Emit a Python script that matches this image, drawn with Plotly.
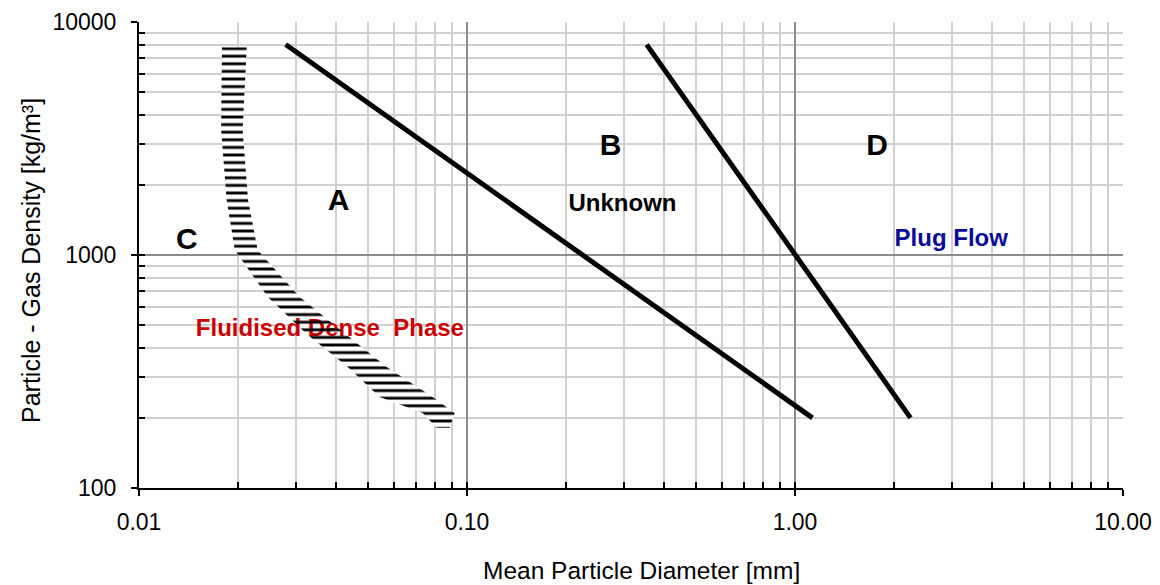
import plotly.graph_objects as go

# ---- data ----
# A/B boundary line: mean particle diameter [mm] vs particle-gas density [kg/m3]
ab_x = [0.028, 1.13]
ab_y = [8000, 200]
# B/D boundary line
bd_x = [0.353, 2.25]
bd_y = [8000, 200]
# Hatched A/C boundary band: left and right edges at given densities
band_y = [7800, 3440, 1720, 1050, 660, 454, 331, 246, 210, 181]
band_left = [0.0179, 0.0178, 0.0185, 0.0196, 0.0247, 0.0327, 0.0433, 0.0542, 0.0733, 0.0809]
band_right = [0.0213, 0.0207, 0.0215, 0.0230, 0.0309, 0.0430, 0.0569, 0.0786, 0.0917, 0.0886]

# region labels
region_letters = ["A", "B", "C", "D"]
region_x = [0.0406, 0.274, 0.0140, 1.78]
region_y = [1672, 2907, 1148, 2907]
desc_text = ["Unknown", "Plug Flow"]
desc_x = [0.298, 2.995]
desc_y = [1639, 1160]
fluid_text = ["Fluidised Dense  Phase"]
fluid_x = [0.0382]
fluid_y = [476]

x_tickvals = [0.01, 0.1, 1, 10]
x_ticktext = ["0.01", "0.10", "1.00", "10.00"]
y_tickvals = [100, 1000, 10000]
y_ticktext = ["100", "1000", "10000"]
x_title = "Mean Particle Diameter [mm]"
y_title = "Particle - Gas Density [kg/m³]"

FONT = "Liberation Sans, Arial, sans-serif"

x_minor = [k * 10 ** e for e in (-2, -1, 0) for k in range(2, 10)]
y_minor = [k * 10 ** e for e in (2, 3) for k in range(2, 10)]

band_px = band_left + band_right[::-1]
band_py = band_y + band_y[::-1]

fig = go.Figure()

# white body of the hatched band (hides grid)
fig.add_trace(go.Scatter(
    x=band_px, y=band_py, mode="lines", fill="toself",
    line=dict(width=0, color="rgba(0,0,0,0)"), fillcolor="white",
    hoverinfo="skip", showlegend=False))

# red label sits beneath the hatch lines
fig.add_trace(go.Scatter(
    x=fluid_x, y=fluid_y, mode="text", text=fluid_text,
    textfont=dict(family=FONT, size=24, color="#cc0000", weight="bold"),
    hoverinfo="skip", showlegend=False))

# hatch lines
fig.add_trace(go.Scatter(
    x=band_px, y=band_py, mode="lines", fill="toself",
    line=dict(width=0, color="rgba(0,0,0,0)"), fillcolor="rgba(0,0,0,0)",
    fillpattern=dict(shape="-", fgcolor="black", bgcolor="rgba(0,0,0,0)",
                     fgopacity=1, size=7.6, solidity=0.38),
    hoverinfo="skip", showlegend=False))

for xs, ys in ((ab_x, ab_y), (bd_x, bd_y)):
    fig.add_trace(go.Scatter(x=xs, y=ys, mode="lines",
                             line=dict(color="black", width=5),
                             showlegend=False))

fig.add_trace(go.Scatter(
    x=region_x, y=region_y, mode="text", text=region_letters,
    textfont=dict(family=FONT, size=30, color="black", weight="bold"),
    hoverinfo="skip", showlegend=False))
fig.add_trace(go.Scatter(
    x=desc_x, y=desc_y, mode="text", text=desc_text,
    textfont=dict(family=FONT, size=24, color=["black", "#0a0a99"], weight="bold"),
    hoverinfo="skip", showlegend=False))

# dummy trace for the overlay axes (inner half of crossing major ticks)
fig.add_trace(go.Scatter(x=[None], y=[None], xaxis="x2", yaxis="y2",
                         showlegend=False, hoverinfo="skip"))

common_minor_x = dict(tickvals=x_minor, ticks="inside", ticklen=6, tickwidth=1.5,
                      tickcolor="black", showgrid=True, gridcolor="#d0d0d0", gridwidth=1.5)
common_minor_y = dict(tickvals=y_minor, ticks="inside", ticklen=6, tickwidth=1.5,
                      tickcolor="black", showgrid=True, gridcolor="#d0d0d0", gridwidth=1.5)

# the page body has an 8px margin, so the figure is drawn at (8, 8)
fig.update_layout(
    width=1152, height=577, autosize=False,
    margin=dict(l=131, r=37, t=14, b=97),
    plot_bgcolor="white", paper_bgcolor="white",
    font=dict(family=FONT, size=23, color="black"),
    xaxis=dict(
        type="log", range=[-2, 1], automargin=False,
        tickvals=x_tickvals, ticktext=x_ticktext,
        ticks="outside", ticklen=6, tickwidth=2, tickcolor="black",
        ticklabelstandoff=6,
        showline=True, linecolor="black", linewidth=2,
        showgrid=True, gridcolor="#8c8c8c", gridwidth=1.5,
        minor=common_minor_x, zeroline=False,
        tickfont=dict(size=23),
    ),
    yaxis=dict(
        type="log", range=[2, 4], automargin=False,
        tickvals=y_tickvals, ticktext=y_ticktext,
        ticks="outside", ticklen=6, tickwidth=2, tickcolor="black",
        ticklabelstandoff=10,
        showline=True, linecolor="black", linewidth=2,
        showgrid=True, gridcolor="#8c8c8c", gridwidth=1.5,
        minor=common_minor_y, zeroline=False,
        tickfont=dict(size=23),
    ),
    xaxis2=dict(type="log", range=[-2, 1], overlaying="x", anchor="y", side="bottom",
                tickvals=x_tickvals, ticks="inside", ticklen=6, tickwidth=2,
                tickcolor="black", showticklabels=False, showgrid=False,
                showline=False, zeroline=False, automargin=False),
    yaxis2=dict(type="log", range=[2, 4], overlaying="y", anchor="x", side="left",
                tickvals=y_tickvals, ticks="inside", ticklen=6, tickwidth=2,
                tickcolor="black", showticklabels=False, showgrid=False,
                showline=False, zeroline=False, automargin=False),
    annotations=[
        dict(text=x_title, xref="paper", yref="paper", x=0.5, y=0,
             xanchor="center", yanchor="middle", xshift=10, yshift=-82,
             showarrow=False, font=dict(family=FONT, size=24.5, color="black")),
        dict(text=y_title, xref="paper", yref="paper", x=0, y=0.5,
             xanchor="center", yanchor="middle", xshift=-108, yshift=-6,
             textangle=-90, showarrow=False,
             font=dict(family=FONT, size=25, color="black")),
    ],
)

fig.write_html("out.html")
